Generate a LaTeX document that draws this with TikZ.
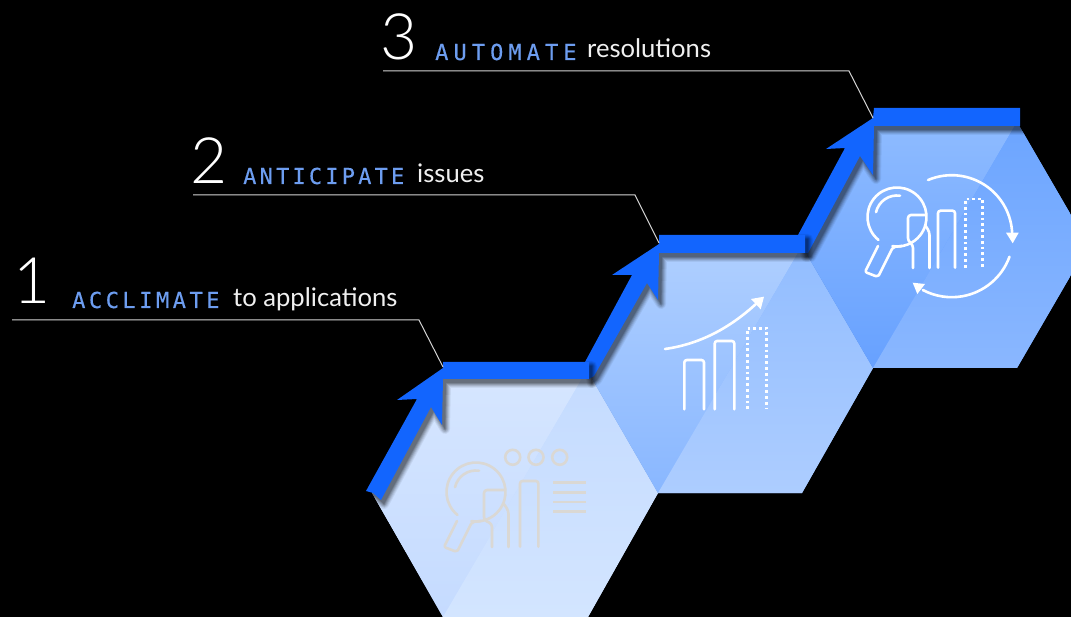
\documentclass[tikz,border=0pt]{standalone}
\usepackage{fontspec}
\setmainfont{Lato}
\newfontfamily\numfont{Lato Light}
\newfontfamily\bodyfont{Lato}
\newfontfamily\capsA[LetterSpace=16,FakeBold=0.3]{DejaVu Sans Mono}
\newfontfamily\capsB[LetterSpace=14.5,FakeBold=0.3]{DejaVu Sans Mono}
\newfontfamily\capsC[LetterSpace=23,FakeBold=0.3]{DejaVu Sans Mono}
\definecolor{barblue}{HTML}{1265FE}
\definecolor{labelblue}{HTML}{6D9DF0}
\definecolor{leader}{HTML}{D4D4D4}
\definecolor{tanline}{HTML}{DAD8D4}
\definecolor{HexAtop}{HTML}{D6E6FF}
\definecolor{HexAbot}{HTML}{C5DBFF}
\definecolor{HexArtop}{HTML}{C4DBFF}
\definecolor{HexArbot}{HTML}{D3E5FF}
\definecolor{HexBtop}{HTML}{AFCFFF}
\definecolor{HexBbot}{HTML}{89B7FF}
\definecolor{HexBrtop}{HTML}{92BDFF}
\definecolor{HexBrbot}{HTML}{ADCDFF}
\definecolor{HexCtop}{HTML}{8EBBFF}
\definecolor{HexCbot}{HTML}{67A1FF}
\definecolor{HexCrtop}{HTML}{6CA5FF}
\definecolor{HexCrbot}{HTML}{8AB7FF}
\tikzset{
  numlabel/.style={anchor=base west,inner sep=0pt,text=white,font=\numfont\fontsize{64}{64}\selectfont},
  capslabel/.style={anchor=base west,inner sep=0pt,text=labelblue},
  bodylabel/.style={anchor=base west,inner sep=0pt,text=white!94!black,font=\bodyfont\fontsize{25.6}{26}\selectfont},
  leaderline/.style={draw=leader,line width=1pt},
  iconline/.style={line width=2.6pt,line cap=round,line join=round},
  dotline/.style={line width=2.8pt,dash pattern=on 2.8pt off 3pt},
}
\newcommand{\capsize}{\fontsize{22}{22}\selectfont}
\newcommand{\lensicon}[4]{% x, y of lens centre, bars offset, left shift of the bar inside the lens
  \begin{scope}[shift={(#1,#2)}]
    \draw[iconline] (129:29.5) arc[start angle=129,end angle=459,radius=29.5];
    \draw[iconline] (193:21.5) arc[start angle=193,end angle=278,radius=21.5];
    \draw[iconline,rounded corners=2pt] (-19,29) -- (-32,55) -- (-19,60) -- (-4,30) -- (5,29);
    \draw[iconline,rounded corners=3pt] (16,{51+#3}) -- (16,{28+#3}) -- ({11-#4},{24+#3}) -- ({11-#4},{-2}) -- (29,{-2});
    \draw[iconline,rounded corners=3pt] (32.5,{51+#3}) -- (32.5,{15+#3}) -- (28,{8+#3});
  \end{scope}
}
\newcommand{\shadowed}[1]{%
  \foreach \w/\o in {10/.06,8/.08,6/.10,4/.12,2/.14,0.1/.16}{
    \begin{scope}[transparency group,opacity=\o]
      \fill[black,draw=black,line width=\w pt,line join=round,shift={(3,4)}] #1;
    \end{scope}
  }
  \fill[barblue] #1;
}
\begin{document}
\begin{tikzpicture}[x=1pt,y=-1pt]
\useasboundingbox (0,0) rectangle (1071,617);
\fill[black] (0,0) rectangle (1071,617);

% hexagon 1
\fill[HexAbot] (443,370) -- (587,370) -- (658,493) -- (588,617) -- (443,617) -- (372,493) -- cycle;
\path[top color=HexAtop,bottom color=HexAbot] (443,370) -- (587,370) -- (443,617) -- (372,493) -- cycle;
\path[top color=HexArtop,bottom color=HexArbot] (587,370) -- (658,493) -- (588,617) -- (443,617) -- cycle;
% hexagon 2
\fill[HexBbot] (658,246) -- (802,246) -- (873,368) -- (802,493) -- (658,493) -- (587,370) -- cycle;
\path[top color=HexBtop,bottom color=HexBbot] (658,246) -- (802,246) -- (658,493) -- (587,370) -- cycle;
\path[top color=HexBrtop,bottom color=HexBrbot] (802,246) -- (873,368) -- (802,493) -- (658,493) -- cycle;
% hexagon 3 (cut by the right margin)
\fill[HexCbot] (873,122) -- (1017,122) -- (1071,215) -- (1071,275) -- (1017,368) -- (873,368) -- (802,246) -- cycle;
\path[top color=HexCtop,bottom color=HexCbot] (873,122) -- (1017,122) -- (873,368) -- (802,246) -- cycle;
\path[top color=HexCrtop,bottom color=HexCrbot] (1017,122) -- (1071,215) -- (1071,275) -- (1017,368) -- (873,368) -- cycle;

% icon, hexagon 1
\begin{scope}[draw=tanline,color=tanline]
  \lensicon{476}{492}{4}{3}
  \draw[iconline,rounded corners=2.5pt] (520,546.7) -- (520,481) -- (538.3,481) -- (538.3,546.7);
  \foreach \cx in {512.7,536,559.7} \draw[line width=2.6pt] (\cx,457.3) circle[radius=7.5];
  \foreach \ly in {482.7,492.3,502,511.7} \draw[line width=2.6pt] (553,\ly) -- (586,\ly);
\end{scope}

% icon, hexagon 2
\begin{scope}[draw=white,color=white]
  \draw[iconline] (665,349) .. controls (700,344) and (730,328) .. (757,303);
  \fill (764,296.7) -- (751,299) -- (760.7,309.3) -- cycle;
  \draw[iconline,rounded corners=2.5pt] (684.3,409.3) -- (684.3,360) -- (704,360) -- (704,409.3);
  \draw[iconline,rounded corners=2.5pt] (714.7,409.3) -- (714.7,341) -- (734.3,341) -- (734.3,409.3);
  \draw[dotline] (747.3,409.3) -- (747.3,328.3) -- (766.7,328.3) -- (766.7,409.3);
\end{scope}

% icon, hexagon 3
\begin{scope}[draw=white,color=white]
  \lensicon{897}{217}{0}{0}
  \draw[iconline,rounded corners=2.5pt] (938,267.7) -- (938,210.7) -- (955,210.7) -- (955,267.7);
  \draw[dotline] (965.7,267.7) -- (965.7,199) -- (982.7,199) -- (982.7,267.7);
  \draw[iconline] (951.7,235.7) ++(247:60.5) arc[start angle=247,end angle=357,radius=60.5];
  \fill (1006,232.7) -- (1018.7,232.7) -- (1012.7,243.3) -- cycle;
  \draw[iconline] (951.7,235.7) ++(20:61.5) arc[start angle=20,end angle=118,radius=61.5];
  \fill (912.7,282.7) -- (925,284) -- (917.3,294) -- cycle;
\end{scope}

% stepped blue arrows, last first so that each bar lies over the next shaft
\shadowed{(798,235) -- (845,148) -- (826,149) -- (873,118) -- (874,108) -- (1020,108) -- (1020,126) -- (874,126) -- (873,175) -- (860,156) -- (808,253) -- (803,253) -- cycle}
\shadowed{(585,362) -- (632,275) -- (612,275) -- (659,244) -- (659,235) -- (805,235) -- (805,253) -- (659,253) -- (658,300) -- (647,283) -- (594,376) -- (589,379) -- cycle}
\shadowed{(366,491) -- (417,399) -- (397,400) -- (443,368) -- (443,362) -- (589,362) -- (589,379) -- (443,379) -- (442,425) -- (431,407) -- (381,500) -- (373,493) -- cycle}

% labels
\node[numlabel] (num1) at (13,304) {1};
\node[capslabel,font=\capsA\capsize] (caps1) at (72,308) {ACCLIMATE};
\node[bodylabel] (body1) at (233,307) {to applications};
\node[numlabel] (num2) at (190,184) {2};
\node[capslabel,font=\capsB\capsize] (caps2) at (243,184) {ANTICIPATE};
\node[bodylabel] (body2) at (417,183) {issues};
\node[numlabel] (num3) at (380,60) {3};
\node[capslabel,font=\capsC\capsize] (caps3) at (435,60) {AUTOMATE};
\node[bodylabel] (body3) at (587,58) {resolutions};

% leader lines
\coordinate (lead1a) at (12,320);
\coordinate (lead1b) at (419,320);
\coordinate (lead1c) at (443,367);
\coordinate (lead2a) at (193,195);
\coordinate (lead2b) at (635,195);
\coordinate (lead2c) at (659,243);
\coordinate (lead3a) at (383,71);
\coordinate (lead3b) at (849,71);
\coordinate (lead3c) at (873,118);
\draw[leaderline] (lead1a) -- (lead1b) -- (lead1c);
\draw[leaderline] (lead2a) -- (lead2b) -- (lead2c);
\draw[leaderline] (lead3a) -- (lead3b) -- (lead3c);
\end{tikzpicture}
\end{document}
